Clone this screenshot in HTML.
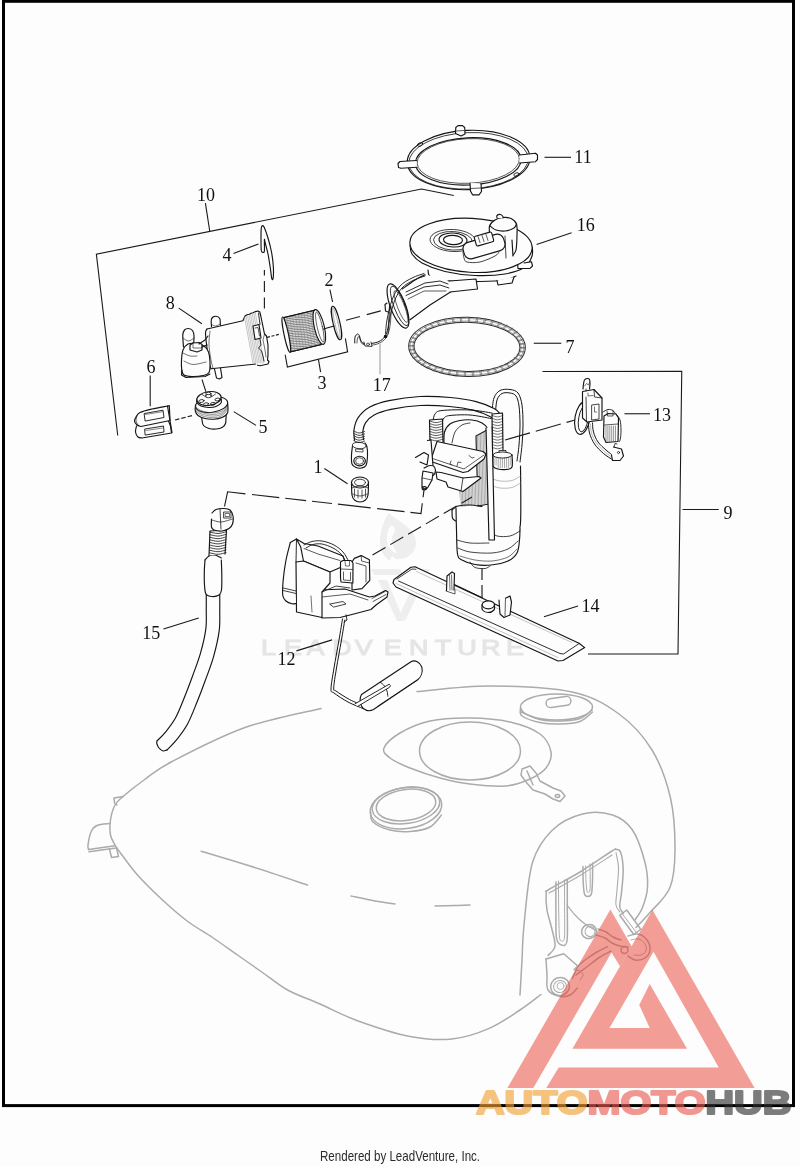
<!DOCTYPE html>
<html><head><meta charset="utf-8"><title>Fuel Pump Diagram</title>
<style>
html,body{margin:0;padding:0;background:#fcfdfc;width:800px;height:1166px;overflow:hidden}
svg{position:absolute;left:0;top:0;display:block;will-change:transform}
.lb text{font-family:"Liberation Serif",serif;font-size:18px;fill:#111;text-anchor:middle}
</style></head><body>
<svg width="800" height="1166" viewBox="0 0 800 1166">
<g stroke="#ababab" stroke-width="1.5" fill="none" stroke-linecap="round" stroke-linejoin="round">
<path d="M636,927.5C638.33,925 644.33,919.17 650,912.5C655.67,905.83 665.83,897.92 670,887.5C674.17,877.08 674.92,864.92 675,850C675.08,835.08 674.33,814.67 670.5,798C666.67,781.33 660.58,764 652,750C643.42,736 632.33,723.67 619,714C605.67,704.33 593.5,696.67 572,692C550.5,687.33 515.83,686.08 490,686C464.17,685.92 429.17,690.58 417,691.5" />
<path d="M321,708.4C308.33,711.58 269.83,718.65 245,727.5C220.17,736.35 188.83,752.75 172,761.5C155.17,770.25 152.17,774.17 144,780C135.83,785.83 127.83,792.33 123,796.5C118.17,800.67 117.08,801.08 115,805C112.92,808.92 111.25,815 110.5,820C109.75,825 109.75,830.83 110.5,835C111.25,839.17 113.08,841.67 115,845C116.92,848.33 118.25,850 122,855C125.75,860 130.75,867.5 137.5,875C144.25,882.5 154.17,892.29 162.5,900C170.83,907.71 179.17,915 187.5,921.25C195.83,927.5 204.17,931.88 212.5,937.5C220.83,943.12 229.17,949.17 237.5,955C245.83,960.83 254.17,966.67 262.5,972.5C270.83,978.33 277.92,984.75 287.5,990C297.08,995.25 308.33,998.88 320,1004C331.67,1009.12 342.5,1015.28 357.5,1020.7C372.5,1026.12 394.25,1033.45 410,1036.5C425.75,1039.55 438.88,1040.32 452,1039C465.12,1037.68 477.37,1033.43 488.7,1028.6C500.03,1023.77 511.28,1015.68 520,1010C528.72,1004.32 537.5,997.08 541,994.5" />
<path d="M123,796.5 L114,798 L114.5,803 L117,805" />
<path d="M110,823.5C107.83,823.83 100.17,824.08 97,825.5C93.83,826.92 92.5,828.75 91,832C89.5,835.25 88.42,842.08 88,845C87.58,847.92 88.42,848.75 88.5,849.5" />
<path d="M88.5,849.5 L115,845.8" />
<path d="M89,851.8 L116,848" />
<path d="M109.5,849 L111.5,857.5 L118.5,856.5 L116.5,848" />
<path d="M201.25,851.25C209.38,853.71 232.29,860.38 250,866C267.71,871.62 297.92,881.83 307.5,885" />
<path d="M351,896C355,896.83 367.67,899.67 375,901C382.33,902.33 391.67,903.5 395,904" />
<path d="M435,906C438.33,905.92 449.17,905.67 455,905.5C460.83,905.33 467.5,905.08 470,905" />
<ellipse cx="406" cy="808" rx="36" ry="20.5" transform="rotate(-8 406 808)" />
<ellipse cx="406" cy="805.5" rx="34" ry="18" transform="rotate(-8 406 805.5)" />
<ellipse cx="406" cy="805" rx="30" ry="15.5" transform="rotate(-8 406 805)" />
<path d="M370.5,812C370.92,813.67 369.75,819 373,822C376.25,825 383.83,828.42 390,830C396.17,831.58 403.33,832 410,831.5C416.67,831 424.75,829.75 430,827C435.25,824.25 439.58,817 441.5,815" />
<ellipse cx="556.5" cy="707" rx="36" ry="13" />
<path d="M520.5,708C520.75,709.33 518.75,713.58 522,716C525.25,718.42 533.67,721.17 540,722.5C546.33,723.83 553.33,724.17 560,724C566.67,723.83 574.58,723.5 580,721.5C585.42,719.5 590.42,713.58 592.5,712" />
<path d="M521,712C524.17,713.25 533.5,718 540,719.5C546.5,721 553.33,721.17 560,721C566.67,720.83 574.67,720.33 580,718.5C585.33,716.67 590,711.42 592,710" />
<rect x="546" y="697.5" width="25" height="9" rx="4.5" transform="rotate(-8 558.5 702)"/>
<path d="M384,748C385.67,743.83 392.33,737.5 400,733C407.67,728.5 418.33,723.5 430,721C441.67,718.5 456.67,717.83 470,718C483.33,718.17 498.33,719.33 510,722C521.67,724.67 533.17,729 540,734C546.83,739 550,746.33 551,752C552,757.67 549.5,763.5 546,768C542.5,772.5 536.67,776 530,779C523.33,782 516,785.17 506,786C496,786.83 481,785.33 470,784C459,782.67 450,780.67 440,778C430,775.33 418.33,771.33 410,768C401.67,764.67 394.33,761.33 390,758C385.67,754.67 382.33,752.17 384,748Z" />
<ellipse cx="470" cy="751" rx="50.5" ry="29" />
<path d="M522,769 L530,766 L536,773 L540,781 L553,788 L561,791 L565,796 L560,801.5 L553,799 L545,794 L533,790 L526,782 L521,775Z" />
<ellipse cx="557.5" cy="796" rx="2.2" ry="1.5" />
<path d="M527,771 L533,785" />
<path d="M520,995C520.33,989.17 521.33,971.67 522,960C522.67,948.33 522.25,941.25 524,925C525.75,908.75 527.75,878.33 532.5,862.5C537.25,846.67 544.17,838.08 552.5,830C560.83,821.92 572.5,816.5 582.5,814C592.5,811.5 604.17,812.33 612.5,815C620.83,817.67 627.08,822.08 632.5,830C637.92,837.92 642.5,852.92 645,862.5C647.5,872.08 647.92,880 647.5,887.5C647.08,895 644.58,902.08 642.5,907.5C640.42,912.92 636.25,917.92 635,920" />
<path d="M548,955.5C549.17,953.92 554.42,950.67 555,946C555.58,941.33 552.83,933.5 551.5,927.5C550.17,921.5 547.88,915.75 547,910C546.12,904.25 545.87,896.42 546.2,893C546.53,889.58 543.37,893 549,889.5C554.63,886 569.5,878.42 580,872C590.5,865.58 606,854.75 612,851C618,847.25 614.57,849.3 616,849.5C617.43,849.7 619.4,848.83 620.6,852.2C621.8,855.57 623.05,862.98 623.2,869.7C623.35,876.42 622.08,886.37 621.5,892.5C620.92,898.63 619.42,903 619.7,906.5C619.98,910 622.62,912.33 623.2,913.5" />
<path d="M549,893C554.17,890.08 569.5,881.83 580,875.5C590.5,869.17 606.67,858.42 612,855" stroke-width="1.1"/>
<path d="M616,852.5C616.42,855.08 618.33,861.75 618.5,868C618.67,874.25 617.42,883.83 617,890C616.58,896.17 615.5,901.33 616,905C616.5,908.67 619.33,910.83 620,912" stroke-width="1.1"/>
<path d="M555.9,882C555.9,886.67 555.8,900.67 555.9,910C556,919.33 555.57,932.17 556.5,938C557.43,943.83 559.75,944.5 561.5,945C563.25,945.5 566.03,946.83 567,941C567.97,935.17 567.26,920.17 567.3,910C567.34,899.83 567.26,885 567.25,880" />
<path d="M558.5,881C558.53,885.83 558.53,900.67 558.7,910C558.87,919.33 558.95,931.83 559.5,937C560.05,942.17 561.17,941 562,941C562.83,941 564.07,942.17 564.5,937C564.93,931.83 564.6,919.5 564.6,910C564.6,900.5 564.52,885 564.5,880" stroke-width="1.0"/>
<path d="M583,866.5C583.03,869.08 582.95,877.42 583.2,882C583.45,886.58 583.7,891.58 584.5,894C585.3,896.42 586.83,896.58 588,896.5C589.17,896.42 590.75,896.25 591.5,893.5C592.25,890.75 592.32,885.08 592.5,880C592.68,874.92 592.58,865.83 592.6,863" />
<path d="M585.6,866C585.67,868.5 585.77,876.83 586,881C586.23,885.17 586.58,889.08 587,891C587.42,892.92 588,892.67 588.5,892.5C589,892.33 589.72,892.08 590,890C590.28,887.92 590.2,884.33 590.2,880C590.2,875.67 590.03,866.67 590,864" stroke-width="1.0"/>
<path d="M567,905C568.33,906.67 572,911.83 575,915C578,918.17 581.33,921.33 585,924C588.67,926.67 595,929.83 597,931" stroke-width="1.1"/>
<ellipse cx="589" cy="931.5" rx="7.5" ry="7" transform="rotate(-20 589 931.5)" />
<ellipse cx="590" cy="931.5" rx="5" ry="5" transform="rotate(-20 590 931.5)" stroke-width="1.0"/>
<path d="M546,959 L563.75,953.75 L577.75,966 L572.5,978.25" />
<path d="M546,959C546.17,961.67 546.67,969.83 547,975C547.33,980.17 545.83,986.42 548,990C550.17,993.58 556.33,995.67 560,996.5C563.67,997.33 567.08,996.42 570,995C572.92,993.58 576.25,989.17 577.5,988" />
<ellipse cx="560" cy="986.5" rx="9.5" ry="9" transform="rotate(-20 560 986.5)" />
<ellipse cx="560" cy="986.5" rx="6.5" ry="6" transform="rotate(-20 560 986.5)" stroke-width="1.0"/>
<ellipse cx="560.5" cy="986" rx="3.5" ry="3.5" stroke-width="0.9"/>
<path d="M619.75,915.25 L626.75,910 L640.75,929.25 L633.75,934.5Z" />
<path d="M622,913.5 L636,932" stroke-width="1.0"/>
<path d="M596,935C597.5,935.5 602.33,936.67 605,938C607.67,939.33 609.5,941.67 612,943C614.5,944.33 617.33,945.33 620,946C622.67,946.67 626.67,946.83 628,947" />
<path d="M598,929C599.33,929.5 603.5,930.67 606,932C608.5,933.33 610.5,935.67 613,937C615.5,938.33 619.67,939.5 621,940" />
<ellipse cx="624.5" cy="950" rx="3.5" ry="3.5" />
<path d="M628,936C629.67,935.67 634.83,933.33 638,934C641.17,934.67 645,937.33 647,940C649,942.67 650.33,947 650,950C649.67,953 647.5,956.33 645,958C642.5,959.67 637.83,960.33 635,960C632.17,959.67 629.17,956.67 628,956" />
<path d="M631,940C632.33,939.83 636.67,938.33 639,939C641.33,939.67 643.83,942 645,944C646.17,946 646.67,949.17 646,951C645.33,952.83 643,954.33 641,955C639,955.67 635.17,955 634,955" stroke-width="1.0"/>
<path d="M574.25,969.5C576.04,967.92 581.21,962.92 585,960C588.79,957.08 593.25,954.21 597,952C600.75,949.79 605.75,947.62 607.5,946.75" />
<path d="M576,975C578,973.5 584,969 588,966C592,963 596.17,959.5 600,957C603.83,954.5 609.17,952 611,951" />
<path d="M574,970C575,970.17 578.5,970.17 580,971C581.5,971.83 583,973.5 583,975C583,976.5 580.5,979.17 580,980" stroke-width="1.0"/>
</g>
<path d="M388.5,513.5C387.17,514.5 385.25,518.92 384,522C382.75,525.08 381.67,528.5 381,532C380.33,535.5 379.83,539.67 380,543C380.17,546.33 380.92,549.5 382,552C383.08,554.5 385.17,556.58 386.5,558C387.83,559.42 389.08,560.83 390,560.5C390.92,560.17 391,556.25 392,556C393,555.75 393.83,558.67 396,559C398.17,559.33 402.17,559.17 405,558C407.83,556.83 411.17,554.5 413,552C414.83,549.5 416,546.17 416,543C416,539.83 414.67,535.83 413,533C411.33,530.17 408.5,528.17 406,526C403.5,523.83 400.33,521.67 398,520C395.67,518.33 393.58,517.08 392,516C390.42,514.92 389.83,512.5 388.5,513.5Z" fill="#eeeeee" stroke="none"/>
<path d="M391,526C389.67,526.83 387.5,531.83 387,535C386.5,538.17 387.17,542.33 388,545C388.83,547.67 390.5,549.67 392,551C393.5,552.33 396.83,553.83 397,553C397.17,552.17 393.83,548.5 393,546C392.17,543.5 391.67,540.67 392,538C392.33,535.33 395.17,532 395,530C394.83,528 392.33,525.17 391,526Z" fill="#fcfdfc" stroke="none"/>
<path d="M371,569 L400,569 L403,575 L374,575Z" fill="#eeeeee" stroke="none"/>
<path d="M378,580 L387,580 L404,621 L397,621Z" fill="#eeeeee" stroke="none"/>
<path d="M421,569 L430,569 L405,621 L400,614Z" fill="#eeeeee" stroke="none"/>
<text transform="scale(1.2 1)" x="217.58 236.67 255.43 276.95 295.72 319.72 340.83 362.38 381.12 400.83 421.75" y="655.3" font-family="Liberation Sans, sans-serif" font-size="22.4" fill="#e5e5e5" stroke="#e5e5e5" stroke-width="1.1">LEADVENTURE</text>
<g stroke="#151515" stroke-width="1.15" fill="none" stroke-linecap="round" stroke-linejoin="round">
<ellipse cx="468.6" cy="160" rx="61.4" ry="29.6" transform="rotate(-2.5 468.6 160)" />
<ellipse cx="468.6" cy="160.8" rx="59.8" ry="28.2" transform="rotate(-2.5 468.6 160.8)" stroke-width="0.8"/>
<ellipse cx="468.3" cy="161.4" rx="52.8" ry="23.6" transform="rotate(-2.5 468.3 161.4)" />
<ellipse cx="468.3" cy="161" rx="51.2" ry="22.3" transform="rotate(-2.5 468.3 161)" stroke-width="0.7"/>
<path d="M455.5,133.5 L455.8,127.5 L458,125.6 L462.5,125.6 L464.7,127.5 L465,134 L461,136Z" fill="#fcfdfc"/>
<path d="M456.5,131 L463.5,130.5" stroke-width="0.7"/>
<path d="M416.5,160.5 L400,161.5 L398,163.5 L398.5,167.5 L401,168.3 L417,167.3" fill="#fcfdfc"/>
<path d="M519.5,155 L535.5,153.2 L537.5,155 L537.5,159.5 L535.5,161.7 L519.5,163" fill="#fcfdfc"/>
<path d="M470,183 L470.5,191 L472.5,194.8 L479,194.8 L481.5,191.5 L481,183.5" fill="#fcfdfc"/>
<path d="M471,188.5 L480.5,188" stroke-width="0.7"/>
<ellipse cx="420" cy="144.5" rx="2.8" ry="1.6" transform="rotate(-20 420 144.5)" stroke-width="0.8"/>
<ellipse cx="516.5" cy="174.5" rx="2.8" ry="1.6" transform="rotate(-20 516.5 174.5)" stroke-width="0.8"/>
</g>
<g stroke="#151515" stroke-width="1.15" fill="none" stroke-linecap="round" stroke-linejoin="round">
<ellipse cx="467" cy="346.8" rx="58.3" ry="29.6" transform="rotate(1 467 346.8)" stroke="#2a2a2a" stroke-width="1.0"/>
<ellipse cx="467" cy="346.8" rx="53" ry="24.6" transform="rotate(1 467 346.8)" stroke="#2a2a2a" stroke-width="1.0"/>
<ellipse cx="467" cy="346.8" rx="57" ry="28.4" transform="rotate(1 467 346.8)" stroke="#6a6a6a" stroke-width="0.6"/>
<ellipse cx="467" cy="346.8" rx="54.3" ry="25.8" transform="rotate(1 467 346.8)" stroke="#6a6a6a" stroke-width="0.6"/>
<path d="M519.99,347.38L525.28,347.5M519.94,347.97L525.23,348.21M519.27,350.88L524.49,351.71M519.04,351.46L524.25,352.4M517.48,354.29L522.53,355.81M517.08,354.85L522.09,356.48M514.68,357.55L519.44,359.73M514.11,358.07L518.82,360.37M510.89,360.59L515.28,363.39M510.17,361.07L514.49,363.97M506.22,363.35L510.14,366.71M505.35,363.78L509.19,367.23M500.75,365.77L504.12,369.62M499.76,366.14L503.03,370.07M494.59,367.8L497.35,372.07M493.5,368.11L496.14,372.44M487.87,369.41L489.96,374.01M486.69,369.64L488.66,374.28M480.72,370.56L482.09,375.39M479.49,370.71L480.74,375.57M473.3,371.23L473.93,376.19M472.03,371.29L472.54,376.27M465.74,371.39L465.62,376.39M464.47,371.37L464.22,376.37M458.22,371.06L457.34,375.99M456.96,370.95L455.96,375.86M450.87,370.23L449.25,375M449.66,370.05L447.93,374.77M443.85,368.93L441.53,373.43M442.71,368.66L440.28,373.11M437.3,367.17L434.33,371.31M436.25,366.84L433.18,370.91M431.35,365L427.79,368.7M430.42,364.6L426.76,368.22M426.13,362.46L422.05,365.65M425.34,362L421.17,365.1M421.75,359.61L417.22,362.21M421.1,359.1L416.51,361.6M418.28,356.49L413.41,358.45M417.79,355.94L412.87,357.8M415.81,353.17L410.69,354.46M415.49,352.6L410.34,353.78M414.38,349.72L409.11,350.32M414.24,349.14L408.96,349.61M414.01,346.22L408.72,346.1M414.06,345.63L408.77,345.39M414.73,342.72L409.51,341.89M414.96,342.14L409.75,341.2M416.52,339.31L411.47,337.79M416.92,338.75L411.91,337.12M419.32,336.05L414.56,333.87M419.89,335.53L415.18,333.23M423.11,333.01L418.72,330.21M423.83,332.53L419.51,329.63M427.78,330.25L423.86,326.89M428.65,329.82L424.81,326.37M433.25,327.83L429.88,323.98M434.24,327.46L430.97,323.53M439.41,325.8L436.65,321.53M440.5,325.49L437.86,321.16M446.13,324.19L444.04,319.59M447.31,323.96L445.34,319.32M453.28,323.04L451.91,318.21M454.51,322.89L453.26,318.03M460.7,322.37L460.07,317.41M461.97,322.31L461.46,317.33M468.26,322.21L468.38,317.21M469.53,322.23L469.78,317.23M475.78,322.54L476.66,317.61M477.04,322.65L478.04,317.74M483.13,323.37L484.75,318.6M484.34,323.55L486.07,318.83M490.15,324.67L492.47,320.17M491.29,324.94L493.72,320.49M496.7,326.43L499.67,322.29M497.75,326.76L500.82,322.69M502.65,328.6L506.21,324.9M503.58,329L507.24,325.38M507.87,331.14L511.95,327.95M508.66,331.6L512.83,328.5M512.25,333.99L516.78,331.39M512.9,334.5L517.49,332M515.72,337.11L520.59,335.15M516.21,337.66L521.13,335.8M518.19,340.43L523.31,339.14M518.51,341L523.66,339.82M519.62,343.88L524.89,343.28M519.76,344.46L525.04,343.99" stroke="#555" stroke-width="0.6"/>
</g>
<g stroke="#151515" stroke-width="1.15" fill="none" stroke-linecap="round" stroke-linejoin="round">
<path d="M428,270C428.5,271.17 427.33,275.17 431,277C434.67,278.83 441.83,280.25 450,281C458.17,281.75 470.83,281.67 480,281.5C489.17,281.33 499,280.92 505,280C511,279.08 514.17,276.67 516,276" fill="#fcfdfc"/>
<path d="M497,280.5 L498,285 L512,283 L514,277" fill="#fcfdfc"/>
<path d="M410,245C410.33,246.5 410,251 412,254C414,257 416.5,260.08 422,263C427.5,265.92 436.17,269.42 445,271.5C453.83,273.58 465,275.08 475,275.5C485,275.92 496.67,275.42 505,274C513.33,272.58 520.5,270 525,267C529.5,264 530.78,259.33 532,256C533.22,252.67 532.25,248.5 532.3,247" fill="#fcfdfc"/>
<path d="M517.5,263.5 L518,268.5 L530,268.4 L532.5,266 L531.5,261.8 L524,263" fill="#fcfdfc"/>
<ellipse cx="471" cy="245.3" rx="61.2" ry="27" transform="rotate(3 471 245.3)" fill="#fcfdfc"/>
<ellipse cx="453" cy="240.5" rx="23" ry="11" transform="rotate(3 453 240.5)" stroke-width="0.8"/>
<ellipse cx="453" cy="240.8" rx="19.5" ry="9.3" transform="rotate(3 453 240.8)" stroke-width="0.8"/>
<ellipse cx="453" cy="240" rx="14" ry="7" transform="rotate(3 453 240)" />
<ellipse cx="453" cy="240" rx="9.5" ry="4.6" transform="rotate(3 453 240)" />
<path d="M490,237C489.92,235.17 488.67,228.83 489.5,226C490.33,223.17 492.75,221.42 495,220C497.25,218.58 500.33,217.75 503,217.5C505.67,217.25 508.75,217.42 511,218.5C513.25,219.58 515.5,221.25 516.5,224C517.5,226.75 517.08,230.67 517,235C516.92,239.33 516.67,246.67 516,250C515.33,253.33 513.5,254.17 513,255" fill="#fcfdfc"/>
<path d="M490,226C491,226.67 493.5,229.17 496,230C498.5,230.83 502,231.33 505,231C508,230.67 512.08,229.17 514,228C515.92,226.83 516.08,224.67 516.5,224" />
<path d="M497,218C497,217.58 496.42,216.08 497,215.5C497.58,214.92 499.5,214.33 500.5,214.5C501.5,214.67 502.58,215.92 503,216.5C503.42,217.08 503,217.75 503,218" fill="#fcfdfc"/>
<path d="M490,237 L490,252" />
<path d="M512,240 L513,256" />
<path d="M505,236 L506,258" stroke-width="0.8"/>
<rect x="463" y="238" width="42" height="17" rx="6.5" transform="rotate(-16 484 246.5)" fill="#fcfdfc"/>
<rect x="475" y="234" width="18" height="10" rx="1.5" transform="rotate(-16 484 239)" fill="#fcfdfc"/>
<path d="M478,236.5 L480,242.5" stroke-width="0.7"/>
<path d="M482,235.5 L484,241.5" stroke-width="0.7"/>
<path d="M486,234.5 L488,240.5" stroke-width="0.7"/>
<path d="M463,252C463.17,253 463.33,256.33 464,258C464.67,259.67 464.33,261.33 467,262C469.67,262.67 475.33,263 480,262C484.67,261 491.83,257.67 495,256C498.17,254.33 498.33,252.67 499,252" stroke-width="0.8"/>
<path d="M425,274.7 L447,279 L452,291.6 L410,319.7 L402.5,288.8Z" fill="#fcfdfc" stroke="none"/>
<path d="M451.3,291.6 L430,305 L410,319.7" />
<path d="M425,274.7C423.33,275.58 418.75,277.65 415,280C411.25,282.35 404.58,287.33 402.5,288.8" />
<path d="M406,292 L425,283 L440,281 L448,284" stroke-width="0.9"/>
<path d="M406,295.5 L424,287 L440,285 L449,288" stroke-width="0.9"/>
<path d="M408,299 L424,291 L446,291" stroke-width="0.7"/>
<path d="M449.5,281 L476,279 L477.5,289 L450,292" fill="#fcfdfc"/>
<ellipse cx="398" cy="306" rx="7.5" ry="23.5" transform="rotate(-21 398 306)" fill="#fcfdfc"/>
<ellipse cx="399.5" cy="306" rx="5.5" ry="21" transform="rotate(-21 399.5 306)" stroke-width="0.8"/>
<ellipse cx="401" cy="306.5" rx="3.5" ry="17" transform="rotate(-21 401 306.5)" stroke-width="0.6"/>
<path d="M387,303 L385,304.5 L385.5,311 L388,312" fill="#fcfdfc"/>
<path d="M385.5,334C385.75,331.67 385.92,325.67 387,320C388.08,314.33 389.83,305.67 392,300C394.17,294.33 396.67,289.67 400,286C403.33,282.33 408,280.08 412,278C416,275.92 422,274.25 424,273.5" stroke-width="0.9"/>
<path d="M388,334C388.25,331.67 388.42,325.5 389.5,320C390.58,314.5 392.42,306.33 394.5,301C396.58,295.67 398.92,291.42 402,288C405.08,284.58 409.17,282.5 413,280.5C416.83,278.5 423,276.75 425,276" stroke-width="0.9"/>
</g>
<g stroke="#151515" stroke-width="1.15" fill="none" stroke-linecap="round" stroke-linejoin="round">
<path d="M261.3,250.5C260.97,248.12 261,241.75 261,238C261,234.25 261.03,230.07 261.3,228C261.57,225.93 262.1,225.68 262.6,225.6C263.1,225.52 263.4,225.43 264.3,227.5C265.2,229.57 266.8,233.92 268,238C269.2,242.08 270.62,247.33 271.5,252C272.38,256.67 273.02,261.67 273.3,266C273.58,270.33 273.45,275.92 273.2,278C272.95,280.08 272.28,280.17 271.8,278.5C271.32,276.83 270.93,272.08 270.3,268C269.67,263.92 268.88,258.33 268,254C267.12,249.67 265.6,244.33 265,242C264.4,239.67 264.5,238.5 264.4,240C264.3,241.5 264.63,248.95 264.4,251C264.17,253.05 263.52,252.38 263,252.3C262.48,252.22 261.63,252.88 261.3,250.5Z" fill="#fcfdfc"/>
</g>
<g stroke="#151515" stroke-width="1.15" fill="none" stroke-linecap="round" stroke-linejoin="round">
<path d="M214.5,369 L216.5,378 L219.5,379 L222,377.5 L220.5,368" fill="#fcfdfc"/>
<path d="M207,329 L243.75,320.3 L256.25,364 L211,368.75Z" fill="#fcfdfc" stroke="none"/>
<path d="M207,329C206.75,329.67 205.5,329.83 205.5,333C205.5,336.17 206.42,343.17 207,348C207.58,352.83 208.33,358.54 209,362C209.67,365.46 210.67,367.62 211,368.75" />
<path d="M207,329 L244,320.5" />
<path d="M211,368.75 L256,364" />
<path d="M210,331C209.83,333.33 208.83,340.17 209,345C209.17,349.83 210.33,356.17 211,360C211.67,363.83 212.67,366.67 213,368" stroke-width="0.6"/>
<path d="M211.5,326.5C211.5,325.25 210.83,320.7 211.5,319C212.17,317.3 214.12,316.38 215.5,316.3C216.88,316.22 219,316.97 219.8,318.5C220.6,320.03 220.22,324.33 220.3,325.5" fill="#fcfdfc"/>
<path d="M211.5,324.5C212.17,324.75 214.03,326.08 215.5,326C216.97,325.92 219.5,324.33 220.3,324" stroke-width="0.6"/>
<path d="M183.5,347C183.38,345 182.63,337.83 182.8,335C182.97,332.17 183.55,331.08 184.5,330C185.45,328.92 187.17,328.42 188.5,328.5C189.83,328.58 191.58,329.25 192.5,330.5C193.42,331.75 193.83,333.42 194,336C194.17,338.58 193.58,344.33 193.5,346" fill="#fcfdfc"/>
<path d="M183,338C183.92,338.5 186.67,341 188.5,341C190.33,341 193.08,338.5 194,338" stroke-width="0.6"/>
<path d="M188,344C185.83,345.08 184.08,347.33 183,350C181.92,352.67 181.7,356.67 181.5,360C181.3,363.33 181.38,367.5 181.8,370C182.22,372.5 182.3,373.92 184,375C185.7,376.08 188.83,376.42 192,376.5C195.17,376.58 200.17,376.17 203,375.5C205.83,374.83 207.83,374.75 209,372.5C210.17,370.25 210.08,365.42 210,362C209.92,358.58 209.5,354.67 208.5,352C207.5,349.33 206.08,347.42 204,346C201.92,344.58 198.67,343.83 196,343.5C193.33,343.17 190.17,342.92 188,344Z" fill="#fcfdfc"/>
<path d="M181.8,370 L181.5,375 L186,377.5 L205,376.5 L210,374" />
<path d="M184,361C185.5,361.58 189.33,364.33 193,364.5C196.67,364.67 203.83,362.42 206,362" stroke-width="0.6"/>
<path d="M183,353C184.17,353.5 187.67,355.5 190,356C192.33,356.5 195.83,356 197,356" stroke-width="0.6"/>
<path d="M190,350 L190,345 L193,343 L199,342.5 L202,344.5 L202,350 L197,352Z" fill="#fcfdfc"/>
<path d="M193,343 L193,348 L202,348" stroke-width="0.6"/>
<path d="M199,344 L205,340 L208,336" />
<path d="M202,347 L207,345" />
<path d="M243,320.5 L245,316 L247,314.7 L249.5,314.3 L251,313.2 L253,312.8 L255.5,311.6 L258,311 L259.8,312 L260.8,316 L264.5,334 L266.5,336 L268,345 L268,355 L267.5,360 L269,361.5 L268,364 L260,365.7 L257.5,365.2 L256,364 L250,345Z" fill="#fcfdfc" stroke="none"/>
<path d="M243,320.5 L245,316 L247,314.7 L249.5,314.3 L251,313.2 L253,312.8 L255.5,311.6 L258,311 L259.8,312 L260.8,316 L264.5,334 L266.5,336 L268,345 L268,355 L267.5,360 L269,361.5 L268,364 L260,365.7 L257.5,365.2" />
<path d="M244.5,317L253,363M246.05,316.4L254.55,363M247.6,315.8L256.1,363M249.15,315.2L257.65,363M250.7,314.6L259.2,363M252.25,314L260.75,363M253.8,313.4L262.3,363M255.35,312.8L263.85,363" stroke="#9a9a9a" stroke-width="0.55"/>
<path d="M258.5,313 L260,324.5" stroke-width="0.9"/>
<path d="M260,339 L261,345 L258.5,348 L261.5,351 L263,356 L264,361" stroke-width="0.9"/>
<path d="M264.5,334 L263,340 L265,350 L266,357" stroke-width="0.6"/>
<path d="M253,326 L259,324.5 L261,338 L255,339.5Z" fill="#fcfdfc"/>
<path d="M255,328 L258,327.5 L259.5,336" stroke-width="0.7"/>
</g>
<g stroke="#151515" stroke-width="1.15" fill="none" stroke-linecap="round" stroke-linejoin="round">
<path d="M284,317.5 L315.5,310 L321.5,344.5 L290,352Z" fill="#fcfdfc"/>
<clipPath id="fc"><path d="M284,317.5 L315.5,310 L321.5,344.5 L290,352Z"/></clipPath>
<g clip-path="url(#fc)"><path d="M270,292.6Q290,286.6 300,287.1T340,278.6M270,294.3Q290,288.3 300,288.8T340,280.3M270,296Q290,290 300,290.5T340,282M270,297.7Q290,291.7 300,292.2T340,283.7M270,299.4Q290,293.4 300,293.9T340,285.4M270,301.1Q290,295.1 300,295.6T340,287.1M270,302.8Q290,296.8 300,297.3T340,288.8M270,304.5Q290,298.5 300,299T340,290.5M270,306.2Q290,300.2 300,300.7T340,292.2M270,307.9Q290,301.9 300,302.4T340,293.9M270,309.6Q290,303.6 300,304.1T340,295.6M270,311.3Q290,305.3 300,305.8T340,297.3M270,313Q290,307 300,307.5T340,299M270,314.7Q290,308.7 300,309.2T340,300.7M270,316.4Q290,310.4 300,310.9T340,302.4M270,318.1Q290,312.1 300,312.6T340,304.1M270,319.8Q290,313.8 300,314.3T340,305.8M270,321.5Q290,315.5 300,316T340,307.5M270,323.2Q290,317.2 300,317.7T340,309.2M270,324.9Q290,318.9 300,319.4T340,310.9M270,326.6Q290,320.6 300,321.1T340,312.6M270,328.3Q290,322.3 300,322.8T340,314.3M270,330Q290,324 300,324.5T340,316M270,331.7Q290,325.7 300,326.2T340,317.7M270,333.4Q290,327.4 300,327.9T340,319.4M270,335.1Q290,329.1 300,329.6T340,321.1M270,336.8Q290,330.8 300,331.3T340,322.8M270,338.5Q290,332.5 300,333T340,324.5M270,340.2Q290,334.2 300,334.7T340,326.2M270,341.9Q290,335.9 300,336.4T340,327.9M270,343.6Q290,337.6 300,338.1T340,329.6M270,345.3Q290,339.3 300,339.8T340,331.3M270,347Q290,341 300,341.5T340,333M270,348.7Q290,342.7 300,343.2T340,334.7M270,350.4Q290,344.4 300,344.9T340,336.4M270,352.1Q290,346.1 300,346.6T340,338.1M270,353.8Q290,347.8 300,348.3T340,339.8M270,355.5Q290,349.5 300,350T340,341.5M270,357.2Q290,351.2 300,351.7T340,343.2M270,358.9Q290,352.9 300,353.4T340,344.9M270,360.6Q290,354.6 300,355.1T340,346.6M270,362.3Q290,356.3 300,356.8T340,348.3" stroke="#4a4a4a" stroke-width="0.7"/></g>
<g clip-path="url(#fc)"><path d="M286,312L292,352M289,312L295,352M292,312L298,352M295,312L301,352M298,312L304,352M301,312L307,352M304,312L310,352M307,312L313,352M310,312L316,352M313,312L319,352M316,312L322,352M319,312L325,352" stroke="#8a8a8a" stroke-width="0.6"/></g>
<path d="M284,317.5 L315.5,310" />
<path d="M290,352 L321.5,344.5" />
<ellipse cx="286.3" cy="334.6" rx="2.2" ry="18" transform="rotate(-12 286.3 334.6)" fill="#fcfdfc"/>
<ellipse cx="319.3" cy="327" rx="5" ry="17.8" transform="rotate(-13 319.3 327)" fill="#fcfdfc"/>
<ellipse cx="319.8" cy="327" rx="2.6" ry="15.5" transform="rotate(-13 319.8 327)" stroke-width="0.6"/>
</g>
<g stroke="#151515" stroke-width="1.15" fill="none" stroke-linecap="round" stroke-linejoin="round">
<ellipse cx="336.5" cy="323" rx="3.4" ry="17.2" transform="rotate(-13 336.5 323)" />
<ellipse cx="336.4" cy="323" rx="1.6" ry="15.6" transform="rotate(-13 336.4 323)" stroke-width="0.5" stroke="#777"/>
<path d="M323.5,329 L334,326" />
</g>
<g stroke="#151515" stroke-width="1.15" fill="none" stroke-linecap="round" stroke-linejoin="round">
<path d="M354.8,343C354.83,342 354.55,338.5 355,337C355.45,335.5 356.75,334.17 357.5,334C358.25,333.83 358.92,334.83 359.5,336C360.08,337.17 360.25,339.75 361,341C361.75,342.25 362.33,343.08 364,343.5C365.67,343.92 368.5,343.83 371,343.5C373.5,343.17 376.67,342.67 379,341.5C381.33,340.33 383.5,338.75 385,336.5C386.5,334.25 387.33,331.08 388,328C388.67,324.92 388.75,321.67 389,318C389.25,314.33 389.42,308 389.5,306" stroke-width="1.0"/>
<path d="M357,343C357.08,342.17 357.17,339 357.5,338C357.83,337 358.33,336.17 359,337C359.67,337.83 360.5,341.67 361.5,343C362.5,344.33 363.42,344.62 365,345C366.58,345.38 368.67,345.58 371,345.3C373.33,345.02 376.5,344.52 379,343.3C381.5,342.08 384.25,340.38 386,338C387.75,335.62 388.7,332.33 389.5,329C390.3,325.67 390.55,321.83 390.8,318C391.05,314.17 390.97,308 391,306" stroke-width="0.7"/>
<path d="M364,342 L365,346 L372,346.5 L371,342" stroke-width="0.8" fill="#fcfdfc"/>
<ellipse cx="368" cy="344.3" rx="1.5" ry="1.2" stroke-width="0.7"/>
<ellipse cx="385.5" cy="336.5" rx="1.2" ry="1.2" fill="#151515"/>
</g>
<g stroke="#151515" stroke-width="1.15" fill="none" stroke-linecap="round" stroke-linejoin="round">
<path d="M136.5,426C136.33,427 135.25,430.17 135.5,432C135.75,433.83 136.92,436 138,437C139.08,438 141.33,437.83 142,438L171.5,433L170.5,426L168.5,421" fill="#fcfdfc"/>
<path d="M145,429 L163.5,426 L164,432 L145.5,435Z" stroke-width="0.9"/>
<path d="M146,430.5 L162.5,428" stroke-width="0.5"/>
<path d="M167.5,406C164.92,406.5 156.58,407.92 152,409C147.42,410.08 142.67,411.17 140,412.5C137.33,413.83 136.92,415.58 136,417C135.08,418.42 134.33,419.67 134.5,421C134.67,422.33 135.92,424.08 137,425C138.08,425.92 140.33,426.25 141,426.5L170,420.5L168.5,412L167.5,406" fill="#fcfdfc"/>
<path d="M144.5,413.5 L163,410.2 L164,417.5 L145.5,421Z" stroke-width="0.9"/>
<path d="M145.5,414.5 L162.5,411.7" stroke-width="0.5"/>
<path d="M137,416C136.83,416.83 135.75,419.42 136,421C136.25,422.58 138.08,424.75 138.5,425.5" stroke-width="0.7"/>
<path d="M167.5,406 L169.3,405.6 L170,419.7" />
<path d="M170,420.5 L172,432.5" />
</g>
<g stroke="#151515" stroke-width="1.15" fill="none" stroke-linecap="round" stroke-linejoin="round">
<path d="M201.5,413C201.58,414.17 201.67,417.92 202,420C202.33,422.08 202.33,424.08 203.5,425.5C204.67,426.92 206.92,427.92 209,428.5C211.08,429.08 213.83,429.17 216,429C218.17,428.83 220.42,428.42 222,427.5C223.58,426.58 224.8,425.92 225.5,423.5C226.2,421.08 226.08,414.75 226.2,413" fill="#fcfdfc"/>
<path d="M195.5,405C195.47,406 194.88,409.25 195.3,411C195.72,412.75 196.38,414.25 198,415.5C199.62,416.75 202.33,417.88 205,418.5C207.67,419.12 211.17,419.37 214,419.2C216.83,419.03 219.75,418.53 222,417.5C224.25,416.47 226.53,415.25 227.5,413C228.47,410.75 227.75,405.5 227.8,404" fill="#fcfdfc"/>
<ellipse cx="211.6" cy="404.5" rx="16.2" ry="7.8" transform="rotate(-8 211.6 404.5)" fill="#fcfdfc"/>
<path d="M195.5,406.7C196.42,407.33 198.42,409.48 201,410.5C203.58,411.52 207.67,412.63 211,412.8C214.33,412.97 218.22,412.6 221,411.5C223.78,410.4 226.58,407.08 227.7,406.2" stroke-width="0.55" stroke="#444"/>
<path d="M195.5,407.82C196.42,408.53 198.42,411 201,412.1C203.58,413.2 207.67,414.23 211,414.4C214.33,414.57 218.22,414.28 221,413.1C223.78,411.92 226.58,408.28 227.7,407.32" stroke-width="0.55" stroke="#444"/>
<path d="M195.5,408.94C196.42,409.73 198.42,412.52 201,413.7C203.58,414.88 207.67,415.83 211,416C214.33,416.17 218.22,415.96 221,414.7C223.78,413.44 226.58,409.48 227.7,408.44" stroke-width="0.55" stroke="#444"/>
<path d="M195.5,410.06C196.42,410.93 198.42,414.04 201,415.3C203.58,416.56 207.67,417.43 211,417.6C214.33,417.77 218.22,417.64 221,416.3C223.78,414.96 226.58,410.68 227.7,409.56" stroke-width="0.55" stroke="#444"/>
<path d="M196.8,399C196.83,399.58 196.3,401.33 197,402.5C197.7,403.67 199,405.17 201,406C203,406.83 206.5,407.42 209,407.5C211.5,407.58 214,407.25 216,406.5C218,405.75 220.13,404.25 221,403C221.87,401.75 221.17,399.67 221.2,399" fill="#fcfdfc"/>
<ellipse cx="209" cy="398.5" rx="12.2" ry="6.8" transform="rotate(-8 209 398.5)" fill="#fcfdfc"/>
<ellipse cx="201.5" cy="401" rx="2.6" ry="1.4" transform="rotate(-10 201.5 401)" stroke-width="0.8"/>
<ellipse cx="206" cy="404.2" rx="2.6" ry="1.4" transform="rotate(-10 206 404.2)" stroke-width="0.8"/>
<ellipse cx="213" cy="403.8" rx="2.6" ry="1.4" transform="rotate(-10 213 403.8)" stroke-width="0.8"/>
<ellipse cx="217.5" cy="399.5" rx="2.6" ry="1.4" transform="rotate(-10 217.5 399.5)" stroke-width="0.8"/>
<path d="M206,397 L202,394.5" stroke-width="0.7"/>
<path d="M212,396.5 L215.5,394" stroke-width="0.7"/>
<ellipse cx="208.5" cy="396" rx="3" ry="1.8" stroke-width="0.8" fill="#fcfdfc"/>
<path d="M206,396 L206,393.5 L211,393.5 L211,396" stroke-width="0.8"/>
<ellipse cx="208.5" cy="393.5" rx="2.5" ry="1.2" stroke-width="0.8" fill="#fcfdfc"/>
</g>
<g stroke="#151515" stroke-width="1.15" fill="none" stroke-linecap="round" stroke-linejoin="round">
<path d="M206.25,594C206.25,596.65 206.32,604.05 206.25,609.91C206.18,615.76 206.77,621.9 205.81,629.11C204.85,636.32 202.69,645.41 200.5,653.17C198.31,660.94 195.35,668.31 192.66,675.69C189.97,683.07 187.2,690.44 184.35,697.46C181.5,704.47 178.68,712.05 175.57,717.77C172.47,723.5 168.8,727.95 165.72,731.8C162.64,735.64 158.54,739.35 157.1,740.86" />
<path d="M219.75,594C219.75,596.68 219.84,603.95 219.75,610.09C219.66,616.24 220.23,623.1 219.19,630.89C218.15,638.68 215.81,648.59 213.5,656.83C211.19,665.06 208.12,672.69 205.34,680.31C202.57,687.93 199.84,695.23 196.85,702.54C193.87,709.86 190.86,717.95 187.43,724.23C184,730.5 179.7,735.88 176.28,740.2C172.86,744.52 168.46,748.49 166.9,750.14" />
<path d="M157.1,740.86C157.05,741.3 156.48,742.31 156.8,743.5C157.12,744.69 157.97,746.75 159,748C160.03,749.25 161.75,750.67 163,751C164.25,751.33 165.92,750.17 166.5,750L166.9,750.14" fill="#fcfdfc"/>
<path d="M205,560C204.88,562 204.38,567.83 204.3,572C204.22,576.17 204.22,581.33 204.5,585C204.78,588.67 204.75,592.08 206,594C207.25,595.92 209.83,596.33 212,596.5C214.17,596.67 217.42,596.08 219,595C220.58,593.92 221.03,593.33 221.5,590C221.97,586.67 221.83,580 221.8,575C221.77,570 221.38,562.5 221.3,560" fill="#fcfdfc"/>
<path d="M205,560C205.67,559.33 207.33,556.83 209,556C210.67,555.17 212.95,554.67 215,555C217.05,555.33 220.25,557.5 221.3,558" />
<path d="M209,555.5 L210,531 L226.5,530 L225,554" fill="#fcfdfc"/>
<path d="M209.6,532C211,532.25 215.27,533.53 218,533.5C220.73,533.47 224.67,532.08 226,531.8" stroke-width="0.8"/>
<path d="M209.6,534.6C211,534.85 215.27,536.13 218,536.1C220.73,536.07 224.67,534.68 226,534.4" stroke-width="0.8"/>
<path d="M209.6,537.2C211,537.45 215.27,538.73 218,538.7C220.73,538.67 224.67,537.28 226,537" stroke-width="0.8"/>
<path d="M209.6,539.8C211,540.05 215.27,541.33 218,541.3C220.73,541.27 224.67,539.88 226,539.6" stroke-width="0.8"/>
<path d="M209.6,542.4C211,542.65 215.27,543.93 218,543.9C220.73,543.87 224.67,542.48 226,542.2" stroke-width="0.8"/>
<path d="M209.6,545C211,545.25 215.27,546.53 218,546.5C220.73,546.47 224.67,545.08 226,544.8" stroke-width="0.8"/>
<path d="M209.6,547.6C211,547.85 215.27,549.13 218,549.1C220.73,549.07 224.67,547.68 226,547.4" stroke-width="0.8"/>
<path d="M209.6,550.2C211,550.45 215.27,551.73 218,551.7C220.73,551.67 224.67,550.28 226,550" stroke-width="0.8"/>
<path d="M209.6,552.8C211,553.05 215.27,554.33 218,554.3C220.73,554.27 224.67,552.88 226,552.6" stroke-width="0.8"/>
<path d="M211.5,519C211.5,520.33 211.08,525.17 211.5,527C211.92,528.83 212.25,529.33 214,530C215.75,530.67 219.5,531.25 222,531C224.5,530.75 227.25,529.67 229,528.5C230.75,527.33 231.83,526.08 232.5,524C233.17,521.92 233.42,518.33 233,516C232.58,513.67 231.5,511.25 230,510C228.5,508.75 226.33,508.58 224,508.5C221.67,508.42 218,508.75 216,509.5C214,510.25 212.67,512.42 212,513" fill="#fcfdfc"/>
<path d="M220,509 L221,529" stroke-width="0.8"/>
<path d="M224,512 L231,512 L231,518 L224,518Z" stroke-width="0.8"/>
<path d="M225.5,513.5 L229.5,513.5 L229.5,516.5 L225.5,516.5Z" stroke-width="0.6"/>
<path d="M212,520C213.5,520.33 217.58,522.17 221,522C224.42,521.83 230.58,519.5 232.5,519" stroke-width="0.7"/>
</g>
<g stroke="#151515" stroke-width="1.15" fill="none" stroke-linecap="round" stroke-linejoin="round">
<path d="M351.5,482C351.58,484.17 351.5,492 352,495C352.5,498 353.17,498.83 354.5,500C355.83,501.17 358.17,502 360,502C361.83,502 364.17,501.17 365.5,500C366.83,498.83 367.5,498 368,495C368.5,492 368.42,484.17 368.5,482" fill="#fcfdfc"/>
<ellipse cx="360" cy="482.5" rx="8.5" ry="5.5" fill="#fcfdfc"/>
<ellipse cx="360" cy="482.5" rx="5.5" ry="3.3" stroke-width="0.8"/>
<path d="M352,488C352.67,487.75 354.67,486.83 356,486.5C357.33,486.17 358.67,486 360,486C361.33,486 362.67,486.17 364,486.5C365.33,486.83 367.33,487.75 368,488" stroke-width="0.8"/>
<path d="M354.5,489 L354.5,497" stroke-width="0.7"/>
<path d="M358,490 L358,498" stroke-width="0.7"/>
<path d="M362,490 L362,498" stroke-width="0.7"/>
<path d="M365.5,489 L365.5,497" stroke-width="0.7"/>
<path d="M352.5,494C353.75,494.33 357.5,496 360,496C362.5,496 366.25,494.33 367.5,494" stroke-width="0.7"/>
</g>
<g stroke="#151515" stroke-width="1.15" fill="none" stroke-linecap="round" stroke-linejoin="round">
<path d="M492,412C492.33,409.67 492.67,401.58 494,398C495.33,394.42 497.33,391.92 500,390.5C502.67,389.08 507,389.08 510,389.5C513,389.92 516,390.42 518,393C520,395.58 521.17,399.67 522,405C522.83,410.33 523,418.33 523,425C523,431.67 522.5,438.83 522,445C521.5,451.17 520.33,459.17 520,462" stroke-width="1.0"/>
<path d="M495.5,413C495.75,410.83 495.92,403.25 497,400C498.08,396.75 499.83,394.67 502,393.5C504.17,392.33 507.67,392.58 510,393C512.33,393.42 514.5,393.83 516,396C517.5,398.17 518.33,401.17 519,406C519.67,410.83 520,418.5 520,425C520,431.5 519.5,439 519,445C518.5,451 517.33,458.33 517,461" stroke-width="1.0"/>
<path d="M363.49,439.78C363.4,438.26 362.59,433.53 362.95,430.67C363.31,427.81 363.81,425.22 365.67,422.61C367.53,419.99 369.92,417.17 374.12,414.97C378.33,412.77 383.23,410.98 390.92,409.41C398.6,407.83 410.45,405.98 420.22,405.49C430,405.01 440.65,405.67 449.59,406.48C458.54,407.29 467.19,408.7 473.91,410.37C480.63,412.03 486.41,414.66 489.92,416.49C493.43,418.31 493.11,421.62 494.96,421.32C496.81,421.02 501.19,416.82 501.04,414.68C500.89,412.55 498.24,410.69 494.08,408.51C489.92,406.34 483.37,403.47 476.09,401.63C468.81,399.8 459.79,398.37 450.41,397.52C441.02,396.66 430,395.99 419.78,396.51C409.55,397.02 397.4,398.84 389.08,400.59C380.77,402.35 375,404.23 369.88,407.03C364.75,409.83 360.97,413.68 358.33,417.39C355.69,421.11 354.69,425.53 354.05,429.33C353.41,433.14 354.43,438.41 354.51,440.22" fill="#fcfdfc" stroke="none"/>
<path d="M363.49,439.78C363.4,438.26 362.59,433.53 362.95,430.67C363.31,427.81 363.81,425.22 365.67,422.61C367.53,419.99 369.92,417.17 374.12,414.97C378.33,412.77 383.23,410.98 390.92,409.41C398.6,407.83 410.45,405.98 420.22,405.49C430,405.01 440.65,405.67 449.59,406.48C458.54,407.29 467.19,408.7 473.91,410.37C480.63,412.03 486.41,414.66 489.92,416.49C493.43,418.31 494.12,420.51 494.96,421.32" />
<path d="M354.51,440.22C354.43,438.41 353.41,433.14 354.05,429.33C354.69,425.53 355.69,421.11 358.33,417.39C360.97,413.68 364.75,409.83 369.88,407.03C375,404.23 380.77,402.35 389.08,400.59C397.4,398.84 409.55,397.02 419.78,396.51C430,395.99 441.02,396.66 450.41,397.52C459.79,398.37 468.81,399.8 476.09,401.63C483.37,403.47 489.92,406.34 494.08,408.51C498.24,410.69 499.88,413.65 501.04,414.68" />
<path d="M352.5,446C352.33,447.5 351.58,452 351.5,455C351.42,458 351.25,461.92 352,464C352.75,466.08 354.42,466.83 356,467.5C357.58,468.17 359.83,468.33 361.5,468C363.17,467.67 365,467.5 366,465.5C367,463.5 367.33,459.08 367.5,456C367.67,452.92 367.42,449.17 367,447C366.58,444.83 365.33,443.67 365,443" fill="#fcfdfc"/>
<ellipse cx="359.3" cy="445.5" rx="7" ry="3.2" transform="rotate(5 359.3 445.5)" fill="#fcfdfc" stroke-width="0.8"/>
<ellipse cx="359.6" cy="461" rx="5.8" ry="4.8" />
<ellipse cx="359.6" cy="461" rx="4" ry="3.3" stroke-width="0.7"/>
<path d="M356,449 L363,449.5 L363,452 L356,451.5Z" stroke-width="0.7"/>
<path d="M353.8,431C354.67,431.33 357.22,432.92 359,433C360.78,433.08 363.58,431.75 364.5,431.5" stroke-width="0.8"/>
<path d="M353.8,433.4C354.67,433.73 357.22,435.32 359,435.4C360.78,435.48 363.58,434.15 364.5,433.9" stroke-width="0.8"/>
<path d="M353.8,435.8C354.67,436.13 357.22,437.72 359,437.8C360.78,437.88 363.58,436.55 364.5,436.3" stroke-width="0.8"/>
<path d="M353.8,438.2C354.67,438.53 357.22,440.12 359,440.2C360.78,440.28 363.58,438.95 364.5,438.7" stroke-width="0.8"/>
<path d="M353.8,440.6C354.67,440.93 357.22,442.52 359,442.6C360.78,442.68 363.58,441.35 364.5,441.1" stroke-width="0.8"/>
<path d="M433,421C433.33,419.83 433.5,415.75 435,414C436.5,412.25 436.17,411.17 442,410.5C447.83,409.83 461.67,409.58 470,410C478.33,410.42 488.33,412.5 492,413" stroke-width="1.0"/>
<path d="M442,423C442.33,422.17 442.67,419.25 444,418C445.33,416.75 445.67,416 450,415.5C454.33,415 463.17,414.5 470,415C476.83,415.5 487.5,417.92 491,418.5" stroke-width="1.0"/>
<path d="M444,446C444.08,443.67 443.5,435.67 444.5,432C445.5,428.33 447.42,425.92 450,424C452.58,422.08 456.33,421.17 460,420.5C463.67,419.83 468.33,419.58 472,420C475.67,420.42 479.33,421.5 482,423C484.67,424.5 486.83,426.17 488,429C489.17,431.83 488.83,438.17 489,440" fill="#fcfdfc"/>
<path d="M452,443C452.5,441.17 453.33,435 455,432C456.67,429 459.5,426.5 462,425C464.5,423.5 468.67,423.33 470,423" stroke-width="0.8"/>
<path d="M489.5,466C489.5,471.67 489.5,490.5 489.5,500C489.5,509.5 489.08,518 489.5,523C489.92,528 489.92,528.33 492,530C494.08,531.67 498.33,532.67 502,533C505.67,533.33 511,533 514,532C517,531 518.87,532.33 520,527C521.13,521.67 520.72,510.17 520.8,500C520.88,489.83 520.55,471.67 520.5,466" fill="#fcfdfc"/>
<path d="M490,478C491.67,478.5 496.33,480.58 500,481C503.67,481.42 508.58,481.33 512,480.5C515.42,479.67 519.08,476.75 520.5,476" stroke-width="0.5" stroke="#777"/>
<path d="M490,485C491.67,485.5 496.33,487.58 500,488C503.67,488.42 508.58,488.33 512,487.5C515.42,486.67 519.08,483.75 520.5,483" stroke-width="0.5" stroke="#777"/>
<path d="M493,455C493,456.83 492.17,463.67 493,466C493.83,468.33 495.83,468.42 498,469C500.17,469.58 503.67,469.83 506,469.5C508.33,469.17 511,469.42 512,467C513,464.58 512,457 512,455" fill="#fcfdfc"/>
<path d="M494,455.5L494,465M496.1,455.5L496.1,465M498.2,455.5L498.2,467.5M500.3,455.5L500.3,467.5M502.4,455.5L502.4,467.5M504.5,455.5L504.5,467.5M506.6,455.5L506.6,467.5M508.7,455.5L508.7,467.5M510.8,455.5L510.8,465" stroke="#555" stroke-width="0.5"/>
<ellipse cx="502.5" cy="455" rx="9.5" ry="3" fill="#fcfdfc" stroke-width="0.9"/>
<path d="M499,452.5 L499,450.5 L506,450.5 L506,452.5" stroke-width="0.8"/>
<path d="M476,436 L487,430 L489,504 L478,506Z" fill="#fcfdfc"/>
<path d="M458,484 L480,481 L482,504 L461,507Z" fill="#fcfdfc" stroke="none"/>
<clipPath id="mc"><path d="M476,436 L487,430 L489,504 L478,506ZM458,484 L480,481 L482,504 L461,507Z"/></clipPath>
<g clip-path="url(#mc)"><path d="M457,428L458.5,510M458.45,428L459.95,510M459.9,428L461.4,510M461.35,428L462.85,510M462.8,428L464.3,510M464.25,428L465.75,510M465.7,428L467.2,510M467.15,428L468.65,510M468.6,428L470.1,510M470.05,428L471.55,510M471.5,428L473,510M472.95,428L474.45,510M474.4,428L475.9,510M475.85,428L477.35,510M477.3,428L478.8,510M478.75,428L480.25,510M480.2,428L481.7,510M481.65,428L483.15,510M483.1,428L484.6,510M484.55,428L486.05,510M486,428L487.5,510M487.45,428L488.95,510M488.9,428L490.4,510M490.35,428L491.85,510" stroke="#666" stroke-width="0.55"/></g>
<path d="M492.5,450 L492,414 L502.5,413 L503,450" fill="#fcfdfc"/>
<path d="M492.2,415.5C493.08,415.73 495.73,416.9 497.5,416.9C499.27,416.9 501.92,415.73 502.8,415.5" stroke-width="0.6"/>
<path d="M492.2,418.4C493.08,418.63 495.73,419.8 497.5,419.8C499.27,419.8 501.92,418.63 502.8,418.4" stroke-width="0.6"/>
<path d="M492.2,421.3C493.08,421.53 495.73,422.7 497.5,422.7C499.27,422.7 501.92,421.53 502.8,421.3" stroke-width="0.6"/>
<path d="M492.2,424.2C493.08,424.43 495.73,425.6 497.5,425.6C499.27,425.6 501.92,424.43 502.8,424.2" stroke-width="0.6"/>
<path d="M492.2,427.1C493.08,427.33 495.73,428.5 497.5,428.5C499.27,428.5 501.92,427.33 502.8,427.1" stroke-width="0.6"/>
<path d="M492.2,430C493.08,430.23 495.73,431.4 497.5,431.4C499.27,431.4 501.92,430.23 502.8,430" stroke-width="0.6"/>
<path d="M492.2,432.9C493.08,433.13 495.73,434.3 497.5,434.3C499.27,434.3 501.92,433.13 502.8,432.9" stroke-width="0.6"/>
<path d="M492.2,435.8C493.08,436.03 495.73,437.2 497.5,437.2C499.27,437.2 501.92,436.03 502.8,435.8" stroke-width="0.6"/>
<path d="M492.2,438.7C493.08,438.93 495.73,440.1 497.5,440.1C499.27,440.1 501.92,438.93 502.8,438.7" stroke-width="0.6"/>
<path d="M492.2,441.6C493.08,441.83 495.73,443 497.5,443C499.27,443 501.92,441.83 502.8,441.6" stroke-width="0.6"/>
<path d="M492.2,444.5C493.08,444.73 495.73,445.9 497.5,445.9C499.27,445.9 501.92,444.73 502.8,444.5" stroke-width="0.6"/>
<path d="M492.2,447.4C493.08,447.63 495.73,448.8 497.5,448.8C499.27,448.8 501.92,447.63 502.8,447.4" stroke-width="0.6"/>
<path d="M456,508C456.08,511.67 456.25,522.33 456.5,530C456.75,537.67 456.58,549 457.5,554C458.42,559 459.08,558.25 462,560C464.92,561.75 470.17,563.67 475,564.5C479.83,565.33 485.5,565.58 491,565C496.5,564.42 503.67,563 508,561C512.33,559 515.08,556.5 517,553C518.92,549.5 519,544.17 519.5,540C520,535.83 519.92,530 520,528" fill="#fcfdfc"/>
<path d="M452,510C453,509.33 455,506.83 458,506C461,505.17 466,504.92 470,505C474,505.08 480,506.25 482,506.5" />
<path d="M452,510C452.08,511.33 451.92,516.17 452.5,518C453.08,519.83 455,520.5 455.5,521" />
<path d="M457,540C459.17,540.5 464.67,542.5 470,543C475.33,543.5 485.83,543 489,543" stroke-width="0.8"/>
<path d="M458,548C460,548.67 464.33,551.17 470,552C475.67,552.83 485.67,553.5 492,553C498.33,552.5 503.67,551 508,549C512.33,547 516.33,542.33 518,541" stroke-width="0.8"/>
<path d="M460,556C462.5,556.67 469.67,559.17 475,560C480.33,560.83 486.5,561.5 492,561C497.5,560.5 503.83,559 508,557C512.17,555 515.5,550.33 517,549" stroke-width="0.6"/>
<path d="M470,562C470.83,562.92 472.5,566.42 475,567.5C477.5,568.58 482.5,568.75 485,568.5C487.5,568.25 489.17,566.42 490,566" stroke-width="0.8"/>
<path d="M490,531C491.17,531.83 493.67,535.17 497,536C500.33,536.83 506.17,536.83 510,536C513.83,535.17 518.33,531.83 520,531" stroke-width="0.8"/>
<path d="M486,428 L489,540 L494.5,540 L492,427" fill="#fcfdfc"/>
<path d="M430,442 L429.5,420 L442.5,419 L443,442" fill="#fcfdfc"/>
<path d="M429.8,421C430.83,421.27 433.83,422.6 436,422.6C438.17,422.6 441.67,421.27 442.8,421" stroke-width="0.7"/>
<path d="M429.8,423.6C430.83,423.87 433.83,425.2 436,425.2C438.17,425.2 441.67,423.87 442.8,423.6" stroke-width="0.7"/>
<path d="M429.8,426.2C430.83,426.47 433.83,427.8 436,427.8C438.17,427.8 441.67,426.47 442.8,426.2" stroke-width="0.7"/>
<path d="M429.8,428.8C430.83,429.07 433.83,430.4 436,430.4C438.17,430.4 441.67,429.07 442.8,428.8" stroke-width="0.7"/>
<path d="M429.8,431.4C430.83,431.67 433.83,433 436,433C438.17,433 441.67,431.67 442.8,431.4" stroke-width="0.7"/>
<path d="M429.8,434C430.83,434.27 433.83,435.6 436,435.6C438.17,435.6 441.67,434.27 442.8,434" stroke-width="0.7"/>
<path d="M429.8,436.6C430.83,436.87 433.83,438.2 436,438.2C438.17,438.2 441.67,436.87 442.8,436.6" stroke-width="0.7"/>
<path d="M429.8,439.2C430.83,439.47 433.83,440.8 436,440.8C438.17,440.8 441.67,439.47 442.8,439.2" stroke-width="0.7"/>
<path d="M437,441.5 L483,451.5 L486,454 L484,459 L468,471.5 L463,472.5 L432.5,462 L431.5,458Z" fill="#fcfdfc"/>
<path d="M432.5,458.5 L464,469 L484,455" stroke-width="0.7"/>
<path d="M469,455.5 L472,458 L474,457.5" stroke-width="0.7"/>
<path d="M451,461 L450,464 L452,465" stroke-width="0.7"/>
<path d="M457,466 L458,462 L461,462.5" stroke-width="0.7"/>
<path d="M436,472 L441,472.5 L463,478 L479,476.5 L481,478 L463,491.5 L448,487 L446,482 L437,479Z" fill="#fcfdfc"/>
<path d="M463,478 L461,491" stroke-width="0.8"/>
<path d="M427.5,440.5 L431,440 L433,466 L429,468" fill="#fcfdfc"/>
<path d="M415.5,457.5 L424,452.5 L428.5,455 L427,465 L420,462" fill="#fcfdfc"/>
<path d="M424,468C425,467.58 428.25,465.67 430,465.5C431.75,465.33 433.67,465.75 434.5,467C435.33,468.25 435.42,471.42 435,473C434.58,474.58 432.5,475.92 432,476.5" fill="#fcfdfc"/>
<path d="M423,471 L433,473 L432,480 L427.5,488 L424.5,489 L422,487 L422,478Z" fill="#fcfdfc"/>
<ellipse cx="424.3" cy="488.3" rx="2.2" ry="1.6" />
<path d="M422.5,478 L432,480" stroke-width="0.7"/>
</g>
<g stroke="#151515" stroke-width="1.15" fill="none" stroke-linecap="round" stroke-linejoin="round">
<ellipse cx="582.5" cy="418" rx="7.5" ry="16.5" transform="rotate(10 582.5 418)" fill="none"/>
<ellipse cx="583.5" cy="418.5" rx="4.8" ry="13.5" transform="rotate(10 583.5 418.5)" stroke-width="0.9"/>
<path d="M588.5,423C588.67,424.67 588.5,429.5 589.5,433C590.5,436.5 592.17,440.58 594.5,444C596.83,447.42 600.42,450.83 603.5,453.5C606.58,456.17 611.42,458.92 613,460" stroke-width="1.0"/>
<path d="M592.5,423C592.67,424.5 592.58,428.83 593.5,432C594.42,435.17 595.92,439 598,442C600.08,445 603.42,447.67 606,450C608.58,452.33 612.25,455 613.5,456" stroke-width="1.0"/>
<path d="M590.5,424C590.67,425.5 590.53,429.83 591.5,433C592.47,436.17 594.08,439.87 596.3,443C598.52,446.13 602.02,449.3 604.8,451.8C607.58,454.3 611.63,456.97 613,458" stroke-width="0.5" stroke="#777"/>
<path d="M613.5,447 L621.5,449 L623.5,456 L620,460.5 L612.5,460.5 L611.5,455" fill="#fcfdfc"/>
<ellipse cx="618.5" cy="452.5" rx="1.1" ry="1.1" stroke-width="0.7"/>
<path d="M614,447 L615,443.5 L617,444" stroke-width="0.8"/>
<path d="M603,412C603.83,411.58 606.33,409.75 608,409.5C609.67,409.25 611.75,409.75 613,410.5C614.25,411.25 615.08,413.42 615.5,414" stroke-width="0.9"/>
<path d="M604,416 L608,413.5 L616,414 L618.5,418 L618,441.5 L606,442.5 L603.5,437Z" fill="#fcfdfc"/>
<path d="M604.5,425 L618,424" stroke-width="0.7"/>
<path d="M606,426 L606,441.5" stroke-width="0.5" stroke="#333"/>
<path d="M607.9,426 L607.9,441.5" stroke-width="0.5" stroke="#333"/>
<path d="M609.8,426 L609.8,441.5" stroke-width="0.5" stroke="#333"/>
<path d="M611.7,426 L611.7,441.5" stroke-width="0.5" stroke="#333"/>
<path d="M613.6,426 L613.6,441.5" stroke-width="0.5" stroke="#333"/>
<path d="M615.5,426 L615.5,441.5" stroke-width="0.5" stroke="#333"/>
<path d="M616,414C616.67,415 619.17,417.33 620,420C620.83,422.67 620.92,427 621,430C621.08,433 620.75,436.08 620.5,438C620.25,439.92 619.67,440.92 619.5,441.5" stroke-width="0.9"/>
<path d="M607,411 L607.5,416 L613,416 L613,411" stroke-width="0.7"/>
<path d="M582.5,391.5 L594,389.5 L602,398 L602,420 L587,422 L582.5,418Z" fill="#fcfdfc"/>
<path d="M594,389.5 L594.5,397 L602,398" stroke-width="0.8"/>
<path d="M586,397 L586.5,421" stroke-width="0.8"/>
<path d="M592,405 L599,404 L599,419 L592,420Z" stroke-width="0.8"/>
<path d="M594.5,407 L594.5,412 L596.5,412" stroke-width="0.6"/>
<path d="M588,393 L588,396 L593,395.5" stroke-width="0.6"/>
<path d="M583,389C583.08,388.17 583.25,385.5 583.5,384C583.75,382.5 583.92,380.92 584.5,380C585.08,379.08 586.17,378.58 587,378.5C587.83,378.42 589,378.58 589.5,379.5C590,380.42 590,382.42 590,384C590,385.58 589.58,388.17 589.5,389" fill="#fcfdfc"/>
<path d="M584.5,386 L586.5,383.5 L588.5,385 L589.5,382.5" stroke-width="0.6"/>
<path d="M586,389 L586,391" stroke-width="0.8"/>
</g>
<g stroke="#151515" stroke-width="1.15" fill="none" stroke-linecap="round" stroke-linejoin="round">
<path d="M411,567.3 L415,566.8 L579,643.2 L584.7,647.6 L563,660.5 L558,661 L396,587 L393,583 L394,579.5Z" fill="#fcfdfc"/>
<path d="M398.5,581 L560,653.5 L563.5,654 L579,643.6" stroke-width="0.9"/>
<path d="M397,579 L412,569 L416,569.3" stroke-width="0.8"/>
<path d="M416.5,571.5 L572,642.5" stroke-width="0.5" stroke="#888"/>
<path d="M396,583.5 L558,657.5" stroke-width="0.5" stroke="#888"/>
<path d="M446.5,590.5 L447,576 L452,572 L454.5,573.5 L454,590" fill="#fcfdfc"/>
<path d="M449.5,575 L450,590" stroke-width="0.6"/>
<path d="M451.5,575 L452,590" stroke-width="0.6"/>
<path d="M499,600 L500,614 L504,617.5 L510,615 L511.5,602 L510,596 L506,598" fill="#fcfdfc"/>
<path d="M505.5,598 L505,616" stroke-width="0.7"/>
<path d="M446,591 L455,594 L455,590" stroke-width="0.7"/>
<path d="M454.5,584.5 L483,598" stroke-width="1.0"/>
<path d="M482,605C482.08,605.83 481.5,608.75 482.5,610C483.5,611.25 486.08,612.5 488,612.5C489.92,612.5 492.92,611.25 494,610C495.08,608.75 494.42,605.83 494.5,605" fill="#fcfdfc"/>
<ellipse cx="488.3" cy="604.8" rx="6.2" ry="4" fill="#fcfdfc"/>
</g>
<g stroke="#151515" stroke-width="1.15" fill="none" stroke-linecap="round" stroke-linejoin="round">
<path d="M342.5,619C341.92,622.5 340.42,631.83 339,640C337.58,648.17 335.33,659.83 334,668C332.67,676.17 331,684.83 331,689C331,693.17 331.17,690.83 334,693C336.83,695.17 343.17,699.42 348,702C352.83,704.58 360.5,707.42 363,708.5" stroke-width="1.0"/>
<path d="M344.8,620C344.22,623.5 342.68,633 341.3,641C339.92,649 337.77,660.17 336.5,668C335.23,675.83 333.78,684.17 333.7,688C333.62,691.83 333.37,689.08 336,691C338.63,692.92 345,697.08 349.5,699.5C354,701.92 360.75,704.5 363,705.5" stroke-width="1.0"/>
<path d="M361.5,694.5L411,661.8C415,659.5 420,662 421.8,667C423,672 421,677 418,679.5L373.5,709.5C369,712 363.5,710.5 361.5,706C360,702 360,697 361.5,694.5Z" fill="#fcfdfc"/>
<path d="M380.3,682.2C381,682.83 383.38,684.53 384.5,686C385.62,687.47 386.45,689.3 387,691C387.55,692.7 387.67,695.33 387.8,696.2" stroke-width="0.9"/>
<path d="M378,706 L417,680.5" stroke-width="0.6"/>
<path d="M355,703.8 L389.2,684.2 L390.5,685.7 L389.5,687.3 L357.5,706.5" fill="#fcfdfc" stroke-width="0.9"/>
<path d="M309,595.5 L318,590 L345,589 L369.4,597 L375,596 L385.5,590.5 L388,592 L387,597 L376,605 L371,609.5 L350,615 L340,617.5 L322,618Z" fill="#fcfdfc"/>
<path d="M372,598.5 L385,591.5" stroke-width="0.7"/>
<path d="M373,601.5 L386,594.5" stroke-width="0.7"/>
<path d="M330,604 L343,601.5 L346,604 L334,607Z" stroke-width="0.8"/>
<path d="M322,597 L350,594 L368,600" stroke-width="0.7"/>
<path d="M346,614.8 L347,620 L344,622" stroke-width="0.9"/>
<path d="M352,562 L354.3,558.4 L361.2,555.6 L369.4,559.8 L369.8,580.4 L362,588.6 L352,590Z" fill="#fcfdfc"/>
<path d="M356,563 L366,566 L366,582" stroke-width="0.7"/>
<path d="M361.2,555.6 L361.5,561 L369.4,563" stroke-width="0.7"/>
<path d="M296.5,539.1 L300.6,546.7 L303.5,561 L330,572 L346,565 L343,556 L318,546 L304,543.5Z" fill="#fcfdfc"/>
<path d="M304,548.5 L318,554 L340,560.5" stroke-width="0.7"/>
<path d="M304,545C305.33,544.42 309,542.17 312,541.5C315,540.83 318.33,540.42 322,541C325.67,541.58 330.5,543.17 334,545C337.5,546.83 340.58,549.33 343,552C345.42,554.67 347.58,559.5 348.5,561" stroke-width="0.9"/>
<path d="M306,548C307.17,547.42 310.33,545.17 313,544.5C315.67,543.83 318.67,543.42 322,544C325.33,544.58 329.83,546.33 333,548C336.17,549.67 338.83,551.67 341,554C343.17,556.33 345.17,560.67 346,562" stroke-width="0.9"/>
<path d="M296,562 L303.5,561 L330,572 L330,583 L322,592 L322,617.5 L296.5,612Z" fill="#fcfdfc"/>
<path d="M322,592 L336,586 L350,588" stroke-width="0.8"/>
<path d="M311,596 L312,612" stroke-width="0.6"/>
<path d="M290.3,542.6C289.58,545.5 287.18,553.77 286,560C284.82,566.23 283.73,574.08 283.2,580C282.67,585.92 282.33,592 282.8,595.5C283.27,599 284.47,599.62 286,601C287.53,602.38 290.3,603.38 292,603.8C293.7,604.22 295.5,603.55 296.2,603.5" fill="#fcfdfc"/>
<path d="M290.3,542.6 L296.5,539.1" />
<path d="M296.5,539.1 L296,562" stroke-width="0.9"/>
<path d="M283.3,588 L296,591" stroke-width="0.8"/>
<path d="M283.2,590.5 L296,593.5" stroke-width="0.8"/>
<path d="M340.5,562 L343,560.5 L351,560.5 L353,563 L352.9,583 L341,582 L340.5,578Z" fill="#fcfdfc"/>
<path d="M341,569 L352.5,569.5" stroke-width="0.7"/>
<path d="M343.5,572 L343.5,580 L350.5,580.5 L350.5,572.5" stroke-width="0.7"/>
<path d="M345,561 L345.5,566 L349.5,566 L349.5,561" stroke-width="0.6"/>
</g>
<g stroke="#1e1e1e" stroke-width="1.15" fill="none">
<path d="M264.4,270 L264.4,276 L264.4,311" stroke-dasharray="11 5.5" stroke-dashoffset="5.5"/>
<path d="M267,337.4 L280.5,334" stroke-dasharray="3 1.6" stroke-dashoffset="0"/>
<path d="M346,320.3 L384,310" stroke-dasharray="14.5 7" stroke-dashoffset="0"/>
<path d="M175,420 L192,415.6" stroke-dasharray="4.5 2" stroke-dashoffset="0"/>
<path d="M224.5,506.5 L227.6,491.8 L421,513.5 L424,490" stroke-dasharray="33 6.5 27.5 6 21 6 20 6" stroke-dashoffset="0"/>
<path d="M372.5,555 L472,497" stroke-dasharray="15 5.6" stroke-dashoffset="0"/>
<path d="M505,440 L575,420" stroke-dasharray="26 6" stroke-dashoffset="0"/>
<path d="M482,568 L482,600" stroke-dasharray="12 5" stroke-dashoffset="0"/>
</g>
<path d="M202,379.5 L206.2,392.7" stroke="#1e1e1e" stroke-width="1.1" fill="none"/>
<g fill="none" stroke="#1a1a1a" stroke-width="1.1">
<polyline points="453.75,195.5 421.5,189 96.35,254.15 117.75,435.5"/>
<polyline points="542.5,371.5 681.75,371.25 678,654 588,654"/>
<polyline points="285.2,354.75 287.4,367.1 347.6,351.9 345.4,338.4"/>
<line x1="205.4" y1="203.1" x2="209.75" y2="231.25"/>
<line x1="233.5" y1="253.5" x2="258.5" y2="244"/>
<line x1="178.75" y1="308.1" x2="201.9" y2="323.75"/>
<line x1="329.9" y1="289.6" x2="332.6" y2="302"/>
<line x1="318.4" y1="359.25" x2="320.6" y2="372.2"/>
<line x1="380" y1="343.5" x2="380" y2="374.2" stroke="#b8b8b8" stroke-width="1.5"/>
<line x1="150.2" y1="375.5" x2="150.2" y2="406.3"/>
<line x1="233.7" y1="411.6" x2="256" y2="425.4"/>
<line x1="324.4" y1="468.5" x2="347.5" y2="483.75"/>
<line x1="533.75" y1="343.25" x2="561.25" y2="343.25"/>
<line x1="544.5" y1="157.3" x2="571" y2="157.3"/>
<line x1="536.6" y1="244.6" x2="571.6" y2="232.75"/>
<line x1="624.5" y1="413.75" x2="650" y2="413.75"/>
<line x1="682.5" y1="509.5" x2="718.75" y2="509.5"/>
<line x1="544" y1="616.8" x2="578" y2="606"/>
<line x1="163.5" y1="628.9" x2="198.75" y2="617.9"/>
<line x1="296.4" y1="650.9" x2="332.1" y2="639.9"/>
</g>
<g class="lb"><text x="318" y="473">1</text><text x="329" y="285.5">2</text><text x="322" y="388.5">3</text><text x="227" y="261.2">4</text><text x="263" y="433">5</text><text x="151" y="373">6</text><text x="570" y="352.5">7</text><text x="170.3" y="308.7">8</text><text x="728" y="518.7">9</text><text x="206" y="201.2">10</text><text x="583" y="163">11</text><text x="286.5" y="664.6">12</text><text x="662" y="420.7">13</text><text x="590.5" y="612">14</text><text x="151.3" y="639">15</text><text x="585.7" y="231.2">16</text><text x="381.7" y="391.4">17</text></g>
<rect x="3.5" y="1.3" width="790" height="1104.3" fill="none" stroke="#000" stroke-width="3"/>
<g>
<path fill="rgba(233,62,50,0.5)" d="M652.5,910 L754.6,1088 L546.3,1088 L558.7,1067.5 L718.75,1067.5 L653.5,951.75 L609.5,1028 L649.75,1028 L639.25,1005 L649.75,984 L687,1048.75 L572.4,1048.75 Z"/>
<path fill="rgba(233,62,50,0.5)" d="M610.4,909.4 L631.6,946.2 L620,966.3 L611.5,952.5 L533.3,1088 L507.4,1088 Z"/>
</g>
<g opacity="0.62" transform="translate(476 0) scale(1.2 1) translate(-476 0)">
<text x="476" y="1114.5" font-family="Liberation Sans, sans-serif" font-size="33" font-weight="bold" stroke-width="2.2" stroke-linejoin="round"><tspan fill="#f0a030" stroke="#f0a030">AUTO</tspan><tspan fill="#e85a50" stroke="#e85a50">MOTO</tspan><tspan fill="#2e2e2e" stroke="#2e2e2e">HUB</tspan></text>
</g>
<text x="320" y="1160.8" font-family="Liberation Sans, sans-serif" font-size="14" fill="#2a2a2a" transform="translate(320 0) scale(0.827 1) translate(-320 0)">Rendered by LeadVenture, Inc.</text>
</svg>
</body></html>
